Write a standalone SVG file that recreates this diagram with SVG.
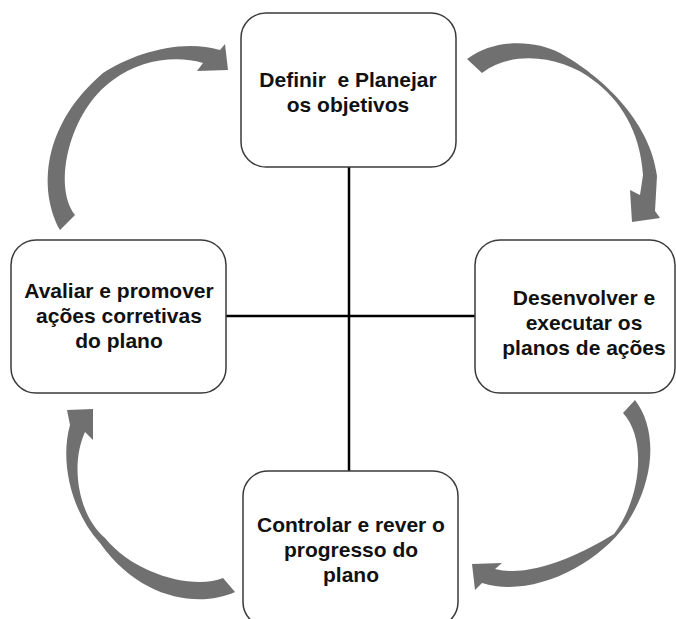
<svg xmlns="http://www.w3.org/2000/svg" width="676" height="619" viewBox="0 0 676 619">
<style>
.box{fill:#fff;stroke:#3a3a3a;stroke-width:1.5}
.lbl{font-family:"Liberation Sans",Arial,sans-serif;font-weight:bold;font-size:21px;fill:#111;text-anchor:middle;white-space:pre}
.conn{stroke:#000;stroke-width:2.5;fill:none}
.arr{fill:#707070}
</style>
<rect width="676" height="619" fill="#fff"/>
<g id="cycle-arrows">
<path class="arr" d="M467,59 C495,38 535,40 560,53 C600,75 650,120 657,176 L655,211 L660,218 L632,222 L630,190 L640,195 L643,175 C640,130 620,100 593,80 C565,58 515,48 482,73 Z"/>
<path class="arr" d="M60,230 C38,190 42,125 103,73 C130,55 180,38 220,50 L225,44 L228,70 L197,71 L203,63 C175,55 140,60 113,80 C70,110 52,185 75,215 Z"/>
<path class="arr" d="M635,400 C658,430 655,480 627,523 C595,568 530,598 482,583 L475,590 L472,564 L502,563 L495,569 C530,578 580,555 614,534 C640,500 648,440 623,413 Z"/>
<path class="arr" d="M235,592 C200,608 140,600 100,543 C70,510 60,460 70,425 L67,410 L93,409 L93,440 L85,432 C70,465 78,515 105,538 C135,575 195,590 223,578 Z"/>
</g>
<g id="connectors">
<line class="conn" x1="226" y1="316" x2="475" y2="316"/>
<line class="conn" x1="349" y1="167" x2="349" y2="471"/>
</g>
<g id="node-definir">
<rect class="box" x="241" y="13" width="215" height="154" rx="25"/>
<text class="lbl" x="348" y="87">Definir  e Planejar</text>
<text class="lbl" x="348" y="112">os objetivos</text>
</g>
<g id="node-avaliar">
<rect class="box" x="11" y="240" width="215" height="153" rx="25"/>
<text class="lbl" x="119" y="298">Avaliar e promover</text>
<text class="lbl" x="119" y="323">ações corretivas</text>
<text class="lbl" x="119" y="348">do plano</text>
</g>
<g id="node-desenvolver">
<rect class="box" x="475" y="240" width="200" height="153" rx="25"/>
<text class="lbl" x="584" y="305">Desenvolver e</text>
<text class="lbl" x="584" y="330">executar os</text>
<text class="lbl" x="584" y="355">planos de ações</text>
</g>
<g id="node-controlar">
<rect class="box" x="243" y="471" width="215" height="156" rx="25"/>
<text class="lbl" x="351" y="532">Controlar e rever o</text>
<text class="lbl" x="351" y="557">progresso do</text>
<text class="lbl" x="351" y="582">plano</text>
</g>
</svg>
